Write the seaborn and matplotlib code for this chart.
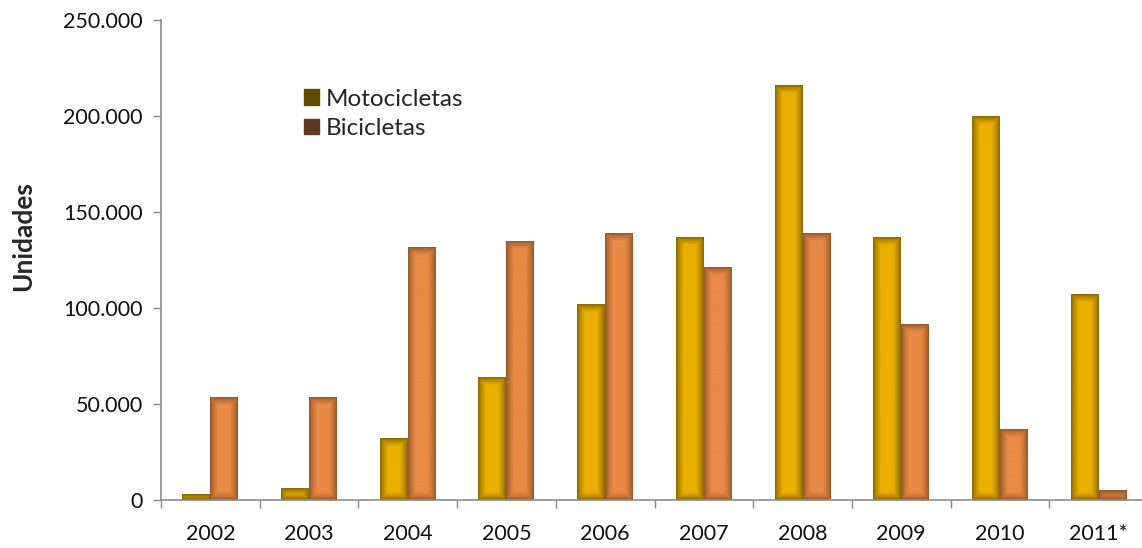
import numpy as np
import pandas as pd
import matplotlib
matplotlib.use("Agg")
import matplotlib.pyplot as plt
import matplotlib.colors as mcolors
from matplotlib.patches import Patch
from matplotlib.ticker import FuncFormatter, FixedLocator
import seaborn as sns

years = ["2002", "2003", "2004", "2005", "2006", "2007", "2008", "2009", "2010", "2011*"]
motocicletas = [3100, 6200, 32000, 64000, 102000, 136500, 216000, 136500, 200000, 107000]
bicicletas = [53600, 53600, 131500, 134500, 139000, 121000, 139000, 91500, 36500, 4700]
series_names = ["Motocicletas", "Bicicletas"]

df = pd.DataFrame({
    "Año": years * 2,
    "Unidades": motocicletas + bicicletas,
    "Serie": [series_names[0]] * len(years) + [series_names[1]] * len(years),
})

sns.set_theme(style="white")
plt.rcParams["font.family"] = ["Lato", "DejaVu Sans"]

center_cols = {"Motocicletas": "#EAB000", "Bicicletas": "#E88B46"}
edge_cols = {"Motocicletas": "#846400", "Bicicletas": "#955529"}
legend_cols = {"Motocicletas": "#5E4A00", "Bicicletas": "#5E3A20"}

W, H = 1142, 548
left, right, top, bottom = 161, 1148, 20, 500
fig = plt.figure(figsize=(W / 100, H / 100), dpi=100)
ax = fig.add_axes([left / W, 1 - bottom / H, (right - left) / W, (bottom - top) / H])

sns.barplot(data=df, x="Año", y="Unidades", hue="Serie", order=years,
            hue_order=series_names, palette=center_cols, width=0.567,
            gap=0, ax=ax, legend=False, errorbar=None, linewidth=0)

ax.set_xlim(-0.5, len(years) - 0.5)
ax.set_ylim(0, 250000)

# cylinder-like shading
fig.canvas.draw()
for container, name in zip(ax.containers, series_names):
    c0 = np.array(mcolors.to_rgb(edge_cols[name]))
    c1 = np.array(mcolors.to_rgb(center_cols[name]))
    for bar in container:
        x0, y0 = bar.get_x(), bar.get_y()
        w, h = bar.get_width(), bar.get_height()
        if h <= 0:
            continue
        (px0, py0), (px1, py1) = ax.transData.transform([(x0, y0), (x0 + w, y0 + h)])
        wp = max(int(round(px1 - px0)), 2)
        hp = max(int(round(py1 - py0)), 2)
        xs = np.arange(wp) + 0.5
        ys = np.arange(hp) + 0.5
        dx = np.minimum(xs, wp - xs)
        dy = np.minimum(ys, hp - ys)
        d = np.minimum(dx[None, :], dy[:, None])
        t = np.clip(d / 8.0, 0, 1) ** 0.8
        img = c0[None, None, :] * (1 - t[..., None]) + c1[None, None, :] * t[..., None]
        ax.imshow(img, extent=(x0, x0 + w, y0, y0 + h), aspect="auto",
                  origin="lower", zorder=bar.get_zorder() + 0.1, interpolation="bilinear")
        bar.set_visible(False)

ax.set_xlim(-0.5, len(years) - 0.5)
ax.set_ylim(0, 250000)

ax.yaxis.set_major_locator(FixedLocator(np.arange(0, 250001, 50000)))
ax.yaxis.set_major_formatter(FuncFormatter(lambda v, p: f"{int(v):,}".replace(",", ".")))
ax.set_xlabel("")
ax.set_ylabel("Unidades", fontsize=19, fontweight="bold")
ax.yaxis.set_label_coords(-(left - 35) / (right - left), 0.55)

for s in ["top", "right"]:
    ax.spines[s].set_visible(False)
for s in ["left", "bottom"]:
    ax.spines[s].set_color("#8C8C8C")
    ax.spines[s].set_linewidth(1.2)

ax.tick_params(axis="y", which="major", length=6, width=1, color="#8C8C8C",
               labelsize=15.5, pad=7, left=True, labelcolor="#111111")
ax.tick_params(axis="x", which="major", length=0, labelsize=15.5, pad=17, labelcolor="#111111")
ax.set_xticks(np.arange(-0.5, len(years) + 0.5, 1.0), minor=True)
ax.tick_params(axis="x", which="minor", length=6, width=1, color="#8C8C8C", bottom=True)

handles = [Patch(facecolor=legend_cols[n], edgecolor=legend_cols[n], label=n) for n in series_names]
ax.legend(handles=handles, loc="upper left", bbox_to_anchor=(0.135, 0.877), frameon=False,
          fontsize=17.5, handlelength=0.6, handleheight=0.6, handletextpad=0.3, labelspacing=0.35,
          borderaxespad=0)

fig.savefig("out.png", dpi=100)
